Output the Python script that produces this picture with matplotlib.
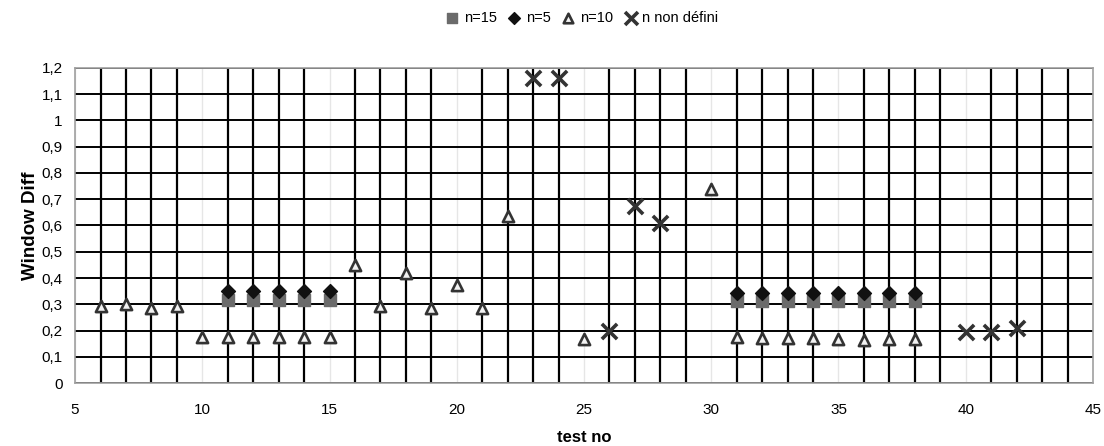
import matplotlib
matplotlib.use("Agg")
from matplotlib import pyplot as plt
from matplotlib.ticker import MultipleLocator, FuncFormatter
import numpy as np

plt.rcParams['font.family'] = ['Liberation Sans', 'DejaVu Sans']

# n=15 (carres gris)
x_n15 = [11, 12, 13, 14, 15, 31, 32, 33, 34, 35, 36, 37, 38]
y_n15 = [0.317, 0.317, 0.317, 0.317, 0.317, 0.311, 0.311, 0.311, 0.311, 0.311, 0.311, 0.311, 0.311]

# n=5 (losanges noirs)
x_n5 = [11, 12, 13, 14, 15, 31, 32, 33, 34, 35, 36, 37, 38]
y_n5 = [0.349, 0.349, 0.349, 0.349, 0.349, 0.343, 0.343, 0.343, 0.343, 0.343, 0.343, 0.343, 0.343]

# n=10 (triangles)
x_n10 = [6, 7, 8, 9, 10, 11, 12, 13, 14, 15, 16, 17, 18, 19, 20, 21, 22, 25, 30,
         31, 32, 33, 34, 35, 36, 37, 38]
y_n10 = [0.295, 0.30, 0.285, 0.295, 0.175, 0.175, 0.175, 0.175, 0.175, 0.175, 0.45, 0.295,
         0.42, 0.285, 0.375, 0.285, 0.635, 0.168, 0.74,
         0.175, 0.172, 0.172, 0.172, 0.168, 0.165, 0.168, 0.168]

# n non defini (croix)
x_nd = [23, 24, 26, 27, 28, 40, 41, 42]
y_nd = [1.162, 1.162, 0.197, 0.673, 0.61, 0.195, 0.195, 0.21]

fig = plt.figure(figsize=(11.04, 4.46), dpi=100)
ax = fig.add_axes([0.068, 0.141, 0.922, 0.707])

ax.scatter(x_n15, y_n15, marker='s', s=75, color='#6b6b6b', zorder=3, label='n=15')
ax.scatter(x_n5, y_n5, marker='D', s=50, color='#111111', zorder=4, label='n=5')
ax.scatter(x_n10, y_n10, marker='^', s=65, facecolor='#f2f2f2', edgecolor='#333333',
           linewidths=1.9, zorder=3, label='n=10')
ax.scatter(x_nd, y_nd, marker='x', s=120, color='#333333', linewidths=2.6, zorder=3,
           label='n non défini')

ax.set_xlim(5, 45)
ax.set_ylim(0, 1.2)
ax.xaxis.set_major_locator(MultipleLocator(5))
ax.xaxis.set_minor_locator(MultipleLocator(1))
ax.yaxis.set_major_locator(MultipleLocator(0.1))
ax.yaxis.set_major_formatter(FuncFormatter(lambda v, p: ('%.1f' % v).rstrip('0').rstrip('.').replace('.', ',') if v != 0 else '0'))

ax.grid(which='minor', axis='x', color='black', lw=1.6)
ax.grid(which='major', axis='x', color='#e6e6e6', lw=1.0)
ax.grid(which='major', axis='y', color='black', lw=1.4)
ax.set_axisbelow(True)
ax.tick_params(which='both', length=0, labelsize=11)
ax.tick_params(axis='x', pad=14)
ax.tick_params(axis='y', pad=9)
for s in ax.spines.values():
    s.set_color('#a0a0a0')
    s.set_linewidth(1.2)

ax.set_ylabel('Window Diff', fontsize=13.5, fontweight='bold', labelpad=2)
ax.set_xlabel('test no', fontsize=12, fontweight='bold', labelpad=10)

fig.legend(loc='upper center', bbox_to_anchor=(0.525, 1.005), ncol=4, frameon=False,
           fontsize=10.5, handletextpad=0.0, columnspacing=0.4, markerscale=0.85,
           handlelength=1.6)

plt.savefig("out.png", dpi=100)
